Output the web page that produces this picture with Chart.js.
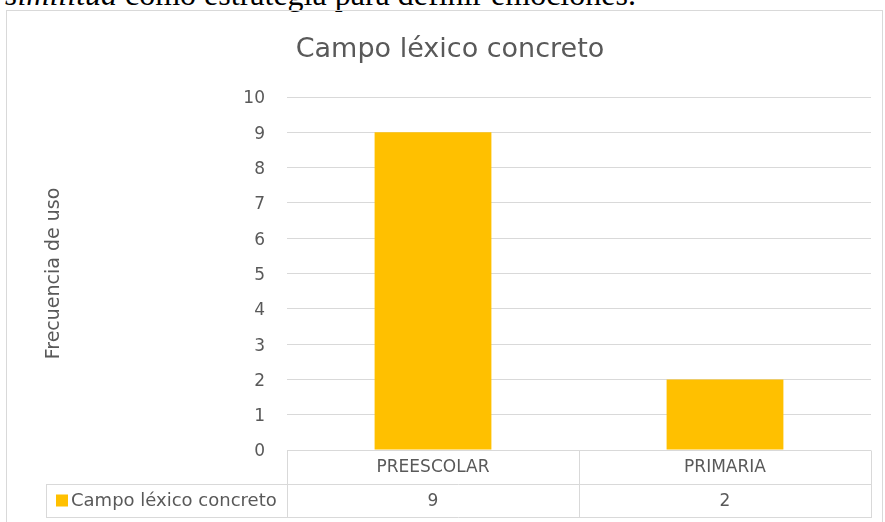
<!DOCTYPE html>
<html>
<head>
<meta charset="utf-8">
<script src="https://cdn.jsdelivr.net/npm/chart.js@4.4.1/dist/chart.umd.min.js"></script>
<style>
  html, body { margin: 0; padding: 0; background: #fff; overflow: hidden; }
  #wrap { position: relative; width: 885px; height: 522px; }
  #header { position: absolute; left: 5px; top: -22px; font-family: "Liberation Serif", "Times New Roman", serif; font-size: 32px; line-height: 32px; color: #000; white-space: nowrap; }
  #frame { position: absolute; left: 6px; top: 10px; width: 877px; height: 520px; border: 1px solid #d9d9d9; box-sizing: border-box; }
  #c { position: absolute; left: 0; top: 0; }
</style>
</head>
<body>
<div id="wrap">
  <div id="header"><i>similitud</i> como estrategia para definir emociones.</div>
  <div id="frame"></div>
  <canvas id="c" width="885" height="522"></canvas>
</div>
<script>
const chartTitle = "Campo léxico concreto";
const yAxisTitle = "Frecuencia de uso";
const categories = ["PREESCOLAR", "PRIMARIA"];
const seriesName = "Campo léxico concreto";
const seriesValues = [9, 2];
const yTicks = [0, 1, 2, 3, 4, 5, 6, 7, 8, 9, 10];

const FONT = "'DejaVu Sans', sans-serif";
const TEXT = "#595959";
const LINE = "#d9d9d9";
const BAR = "#FFC000";

const titlePlugin = {
  id: "excelTitle",
  afterDraw(chart) {
    const ctx = chart.ctx;
    ctx.save();
    ctx.font = "27px " + FONT;
    ctx.fillStyle = TEXT;
    ctx.textAlign = "center";
    ctx.textBaseline = "middle";
    ctx.fillText(chartTitle, 450, 50);
    ctx.restore();
  }
};

const tablePlugin = {
  id: "dataTable",
  afterDraw(chart) {
    const ctx = chart.ctx;
    const xs = chart.scales.x;
    const area = chart.chartArea;
    const top = area.bottom;
    const rowH = 33.5;
    const mid = top + rowH;
    const bot = top + rowH * 2;
    const legLeft = 46;
    const n = categories.length;
    const edges = [area.left];
    for (let i = 0; i < n - 1; i++) {
      edges.push((xs.getPixelForValue(i) + xs.getPixelForValue(i + 1)) / 2);
    }
    edges.push(area.right);

    ctx.save();
    ctx.strokeStyle = LINE;
    ctx.lineWidth = 1;
    ctx.beginPath();
    const h = (x1, x2, y) => { ctx.moveTo(x1, Math.round(y) + 0.5); ctx.lineTo(x2, Math.round(y) + 0.5); };
    const v = (x, y1, y2) => { ctx.moveTo(Math.round(x) + 0.5, y1); ctx.lineTo(Math.round(x) + 0.5, y2); };
    h(area.left, area.right, top);
    h(legLeft, area.right, mid);
    h(legLeft, area.right, bot);
    edges.forEach(x => v(x, Math.round(top) + 0.5, Math.round(bot) + 1));
    v(legLeft, Math.round(mid) + 0.5, Math.round(bot) + 1);
    ctx.stroke();

    ctx.font = "17px " + FONT;
    ctx.fillStyle = TEXT;
    ctx.textAlign = "center";
    ctx.textBaseline = "middle";
    for (let i = 0; i < n; i++) {
      const cx = xs.getPixelForValue(i);
      ctx.fillText(categories[i], cx, top + rowH / 2 + 1);
      ctx.fillText(String(seriesValues[i]), cx, mid + rowH / 2 + 1);
    }
    // legend key
    ctx.fillStyle = BAR;
    ctx.fillRect(56, mid + 11, 12, 12);
    ctx.fillStyle = TEXT;
    ctx.font = "18px " + FONT;
    ctx.textAlign = "left";
    ctx.fillText(seriesName, 71, mid + rowH / 2 + 1);
    ctx.restore();
  }
};

new Chart(document.getElementById("c"), {
  type: "bar",
  data: {
    labels: categories,
    datasets: [{
      label: seriesName,
      data: seriesValues,
      backgroundColor: BAR,
      borderWidth: 0,
      categoryPercentage: 1.0,
      barPercentage: 0.4
    }]
  },
  options: {
    responsive: false,
    animation: false,
    events: [],
    layout: { padding: { left: 0, right: 14, top: 97, bottom: 72 } },
    plugins: { legend: { display: false }, title: { display: false }, tooltip: { enabled: false } },
    scales: {
      x: { display: false, offset: true },
      y: {
        min: 0, max: 10,
        afterFit(scale) { scale.width = 287; },
        afterBuildTicks(scale) { scale.ticks = yTicks.map(v => ({ value: v })); },
        ticks: { stepSize: 1, padding: 22, labelOffset: 2, color: TEXT, font: { family: FONT, size: 17 } },
        grid: { color: LINE, lineWidth: 1, drawTicks: false },
        border: { display: false },
        title: { display: true, text: yAxisTitle, color: TEXT, font: { family: FONT, size: 19 }, padding: { top: 43, bottom: 0 } }
      }
    }
  },
  plugins: [titlePlugin, tablePlugin]
});
</script>
</body>
</html>
